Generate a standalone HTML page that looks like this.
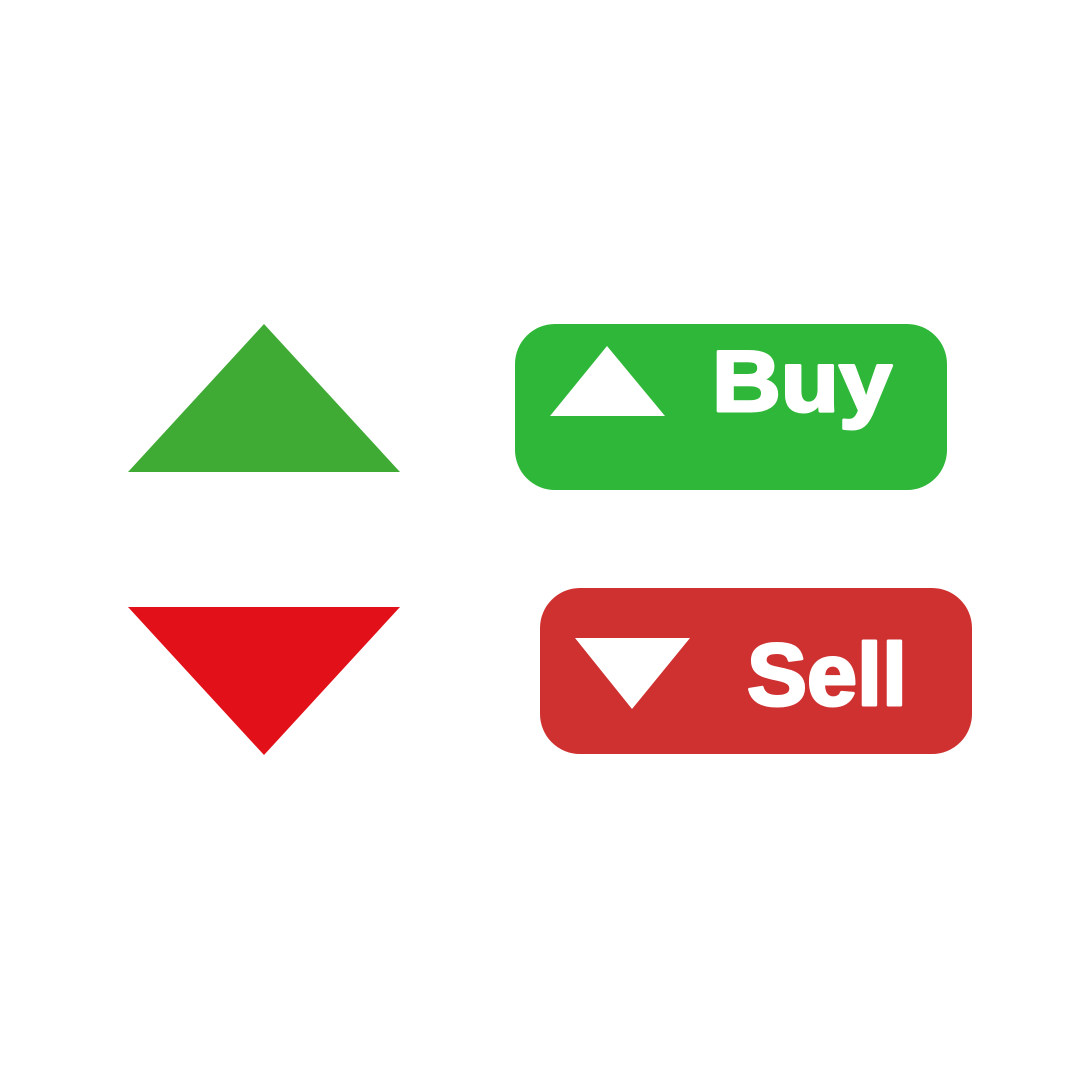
<!DOCTYPE html>
<html><head><meta charset="utf-8"><style>
html,body{margin:0;padding:0;background:#fff;width:1080px;height:1080px;overflow:hidden}
</style></head><body>
<svg width="1080" height="1080" viewBox="0 0 1080 1080">
<rect width="1080" height="1080" fill="#ffffff"/>
<polygon points="264,324 128,472 400,472" fill="#3fab35"/>
<polygon points="128,607 400,607 264,755" fill="#e21019"/>
<g>
<rect x="515" y="324" width="432" height="166" rx="40" fill="#2eb738"/>
<polygon points="607,346 550,416 665,416" fill="#fff"/>
<text x="712" y="411" font-family="Liberation Sans, sans-serif" font-weight="bold" font-size="86" fill="#fff" stroke="#fff" stroke-width="3" stroke-linejoin="round" textLength="180" lengthAdjust="spacingAndGlyphs">Buy</text>
</g>
<g>
<rect x="540" y="588" width="432" height="166" rx="40" fill="#cf3030"/>
<polygon points="575,638 690,638 632,709" fill="#fff"/>
<text x="747" y="705" font-family="Liberation Sans, sans-serif" font-weight="bold" font-size="88" fill="#fff" stroke="#fff" stroke-width="3" stroke-linejoin="round" textLength="160" lengthAdjust="spacingAndGlyphs">Sell</text>
</g>
</svg>
</body></html>
